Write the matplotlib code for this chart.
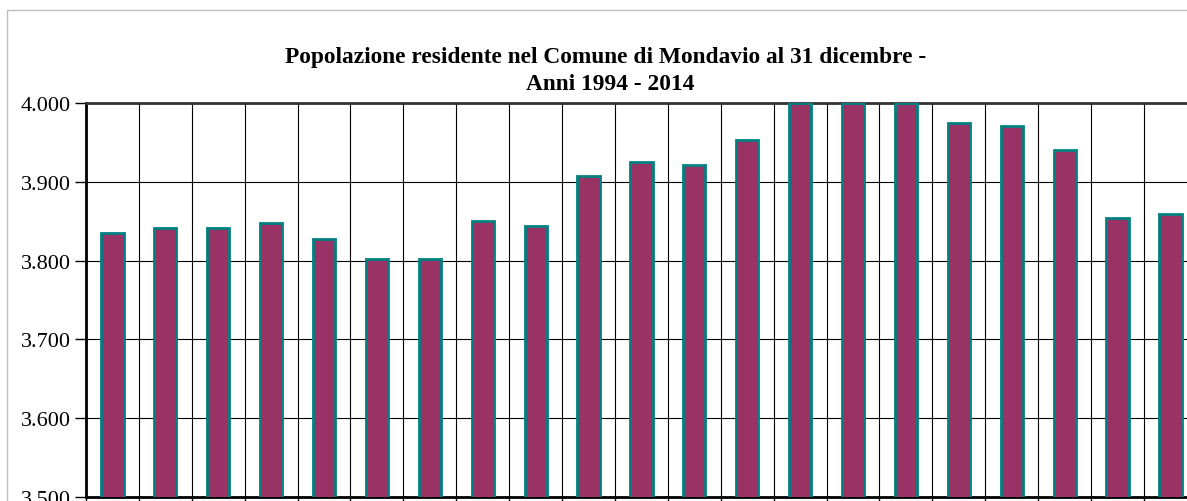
import matplotlib
matplotlib.use("Agg")
import matplotlib.pyplot as plt
import matplotlib.patches as mpatches
from matplotlib.ticker import FuncFormatter, MultipleLocator
import numpy as np

years = list(range(1994, 2015))
population = [3835, 3842, 3842, 3848, 3827, 3802, 3802, 3850, 3844, 3907,
              3925, 3921, 3953, 4000, 4000, 4000, 3975, 3971, 3940, 3854, 3859]
title_lines = ["Popolazione residente nel Comune di Mondavio al 31 dicembre -",
               "Anni 1994 - 2014"]

W, H = 1187, 502
fig = plt.figure(figsize=(W / 100, H / 100), dpi=100)
serif = ["Liberation Serif", "DejaVu Serif"]

# outer chart-area border
fig.patches.append(mpatches.Rectangle((7 / W, -0.1), 1.2, 1 - 11 / H + 0.1,
                                      transform=fig.transFigure, fill=False,
                                      edgecolor="#bfbfbf", linewidth=1.0))

left, top, bottom = 86, 104, 498
cat_w = 52.9
ax = fig.add_axes([left / W, (H - bottom) / H, 21 * cat_w / W, (bottom - top) / H])

x = np.arange(len(years))
ax.bar(x, population, width=0.42, bottom=0, color="#993366",
       edgecolor="#008080", linewidth=2.0, zorder=3)

ax.set_xlim(-0.5, len(years) - 0.5)
ax.set_ylim(3500, 4000)
ax.yaxis.set_major_locator(MultipleLocator(100))
ax.yaxis.set_major_formatter(FuncFormatter(lambda v, p: f"{int(v):,}".replace(",", ".")))
ax.set_xticks(np.arange(-0.5, len(years), 1.0))
ax.set_xticklabels([])
ax.grid(True, axis="both", color="#000000", linewidth=0.8, zorder=1)
ax.set_axisbelow(True)

for lab in ax.get_yticklabels():
    lab.set_family(serif)
    lab.set_fontsize(16)
ax.tick_params(axis="y", length=8, width=1.0, pad=3, direction="out")
ax.tick_params(axis="x", length=5, width=1.0, direction="out")

ax.spines["left"].set_linewidth(2.0)
ax.spines["top"].set_linewidth(2.0)
ax.spines["top"].set_color("#333333")
ax.spines["bottom"].set_linewidth(2.0)

fig.text(606 / W, 1 - 63 / H, title_lines[0], ha="center", va="baseline",
         fontsize=16.8, fontweight="bold", family=serif)
fig.text(610 / W, 1 - 90 / H, title_lines[1], ha="center", va="baseline",
         fontsize=16.8, fontweight="bold", family=serif)

fig.savefig("out.png", dpi=100)
